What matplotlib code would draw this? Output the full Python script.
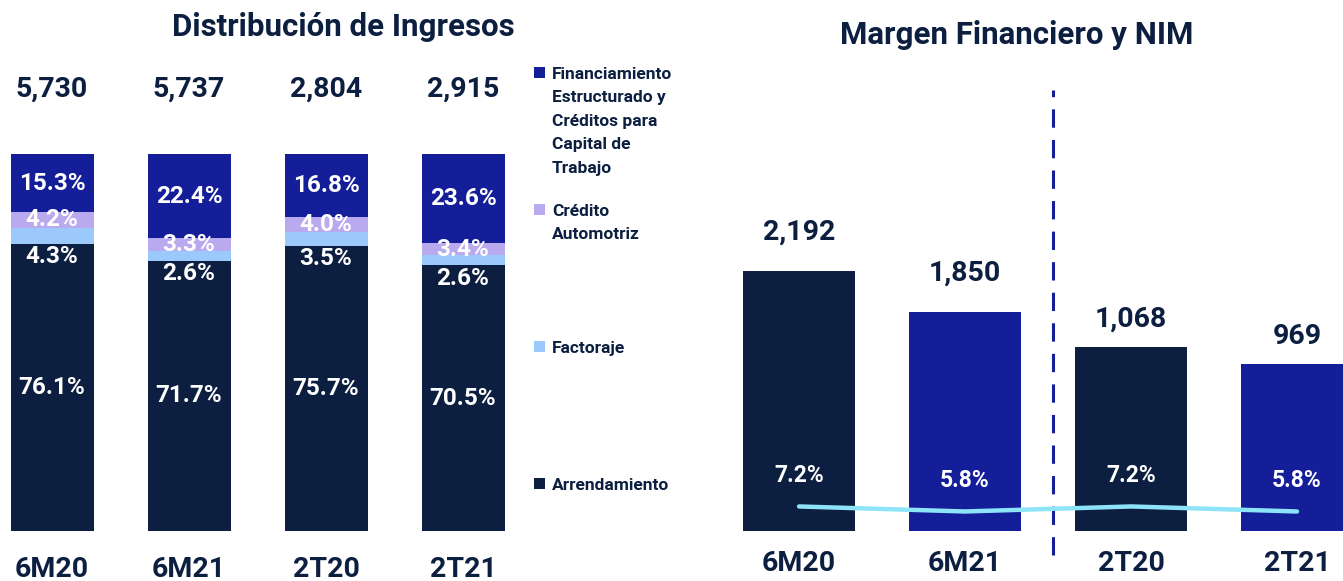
import numpy as np
import matplotlib.pyplot as plt
from matplotlib.patches import Rectangle

plt.rcParams['font.family'] = ['Roboto', 'DejaVu Sans']

# Datos - Distribución de Ingresos
periodos = ['6M20', '6M21', '2T20', '2T21']
totales = ['5,730', '5,737', '2,804', '2,915']
arrendamiento = [76.1, 71.7, 75.7, 70.5]
factoraje = [4.3, 2.6, 3.5, 2.6]
credito_auto = [4.2, 3.3, 4.0, 3.4]
financiamiento = [15.3, 22.4, 16.8, 23.6]

# Datos - Margen Financiero y NIM
margen_6m = [2192, 1850]
margen_2t = [1068, 969]
nim = [7.2, 5.8, 7.2, 5.8]

NAVY = '#0c1f40'
BLUE = '#141e99'
LAV = '#b9a9ef'
LIGHT = '#9cc9fb'
CYAN = '#8de4f8'

W, H = 1343, 581
fig = plt.figure(figsize=(W / 100, H / 100), dpi=100)

# ---------------- izquierda: barras apiladas ----------------
ax = fig.add_axes([0, 50 / H, 520 / W, 377 / H])
x = np.arange(len(periodos))
bw = 0.606
series = [(arrendamiento, NAVY), (factoraje, LIGHT), (credito_auto, LAV), (financiamiento, BLUE)]
bottom = np.zeros(len(periodos))
for vals, col in series:
    ax.bar(x, vals, bw, bottom=bottom, color=col, linewidth=0)
    bottom += np.array(vals)

lbl = dict(color='white', fontsize=17.5, fontweight='bold', ha='center')
for i in range(len(periodos)):
    a, f, c, fi = arrendamiento[i], factoraje[i], credito_auto[i], financiamiento[i]
    ax.text(i, a / 2, f'{a:.1f}%', va='center', **lbl)
    ax.annotate(f'{f:.1f}%', (i, a), xytext=(0, -1), textcoords='offset points', va='top', **lbl)
    ax.text(i, a + f + c / 2, f'{c:.1f}%', va='center', **lbl)
    ax.text(i, a + f + c + fi / 2, f'{fi:.1f}%', va='center', **lbl)
    ax.annotate(totales[i], (i, 100), xytext=(0, 47), textcoords='offset points',
                ha='center', va='center', fontsize=20.5, fontweight='bold', color=NAVY,
                annotation_clip=False)

ax.set_xlim(-0.38, 3.416)
ax.set_ylim(0, 100)
ax.set_xticks(x)
ax.set_xticklabels(periodos, fontsize=20.5, fontweight='bold', color=NAVY)
ax.tick_params(axis='x', length=0, pad=18)
ax.set_yticks([])
for s in ax.spines.values():
    s.set_visible(False)

fig.text(343 / W, 1 - 27 / H, 'Distribución de Ingresos', ha='center', va='center',
         fontsize=22.5, fontweight='bold', color=NAVY)

# leyenda
leyenda = [
    ('Financiamiento\nEstructurado y\nCréditos para\nCapital de\nTrabajo', BLUE, 72),
    ('Crédito\nAutomotriz', LAV, 209),
    ('Factoraje', LIGHT, 346),
    ('Arrendamiento', NAVY, 483),
]
for texto, col, yp in leyenda:
    fig.add_artist(Rectangle((534 / W, 1 - (yp + 6) / H), 11 / W, 11 / H,
                             transform=fig.transFigure, color=col, linewidth=0))
    fig.text(552 / W, 1 - (yp - 5) / H, texto, ha='left', va='top', fontsize=12.5,
             fontweight='bold', color=NAVY, linespacing=1.7)

# ---------------- derecha: margen financiero ----------------
axr = fig.add_axes([730 / W, 50 / H, 613 / W, 471 / H])
axr2 = axr.twinx()
axn = axr.twinx()

bw2 = 0.675
axr.bar([0, 1], margen_6m, bw2, color=[NAVY, BLUE], linewidth=0)
axr2.bar([2, 3], margen_2t, bw2, color=[NAVY, BLUE], linewidth=0)
axr.set_ylim(0, 2192 * 471 / 260)
axr2.set_ylim(0, 1068 * 471 / 184)

vl = dict(ha='center', va='bottom', fontsize=20.5, fontweight='bold', color=NAVY)
for i, v in enumerate(margen_6m):
    axr.annotate(f'{v:,}', (i, v), xytext=(0, 18), textcoords='offset points', **vl)
for i, v in enumerate(margen_2t):
    axr2.annotate(f'{v:,}', (i + 2, v), xytext=(0, 10), textcoords='offset points', **vl)

axn.plot(x, nim, color=CYAN, linewidth=3.2, solid_capstyle='round', solid_joinstyle='round')
axn.set_ylim(0.34, 132)
for i, v in enumerate(nim):
    axn.annotate(f'{v:.1f}%', (i, v), xytext=(0, 22), textcoords='offset points',
                 ha='center', va='center', fontsize=16.5, fontweight='bold', color='white')

axr.axvline(1.53, ymin=-0.051, ymax=0.936, color=BLUE, linewidth=2.2,
            linestyle=(0, (6, 4)), clip_on=False, zorder=5)

for a in (axr, axr2, axn):
    a.set_xlim(-0.416, 3.277)
    a.set_yticks([])
    for s in a.spines.values():
        s.set_visible(False)
axr.set_xticks(x)
axr.set_xticklabels(periodos, fontsize=20.5, fontweight='bold', color=NAVY)
axr.tick_params(axis='x', length=0, pad=14)

fig.text(1017 / W, 1 - 35 / H, 'Margen Financiero y NIM', ha='center', va='center',
         fontsize=22.5, fontweight='bold', color=NAVY)

fig.savefig('out.png', dpi=100)
